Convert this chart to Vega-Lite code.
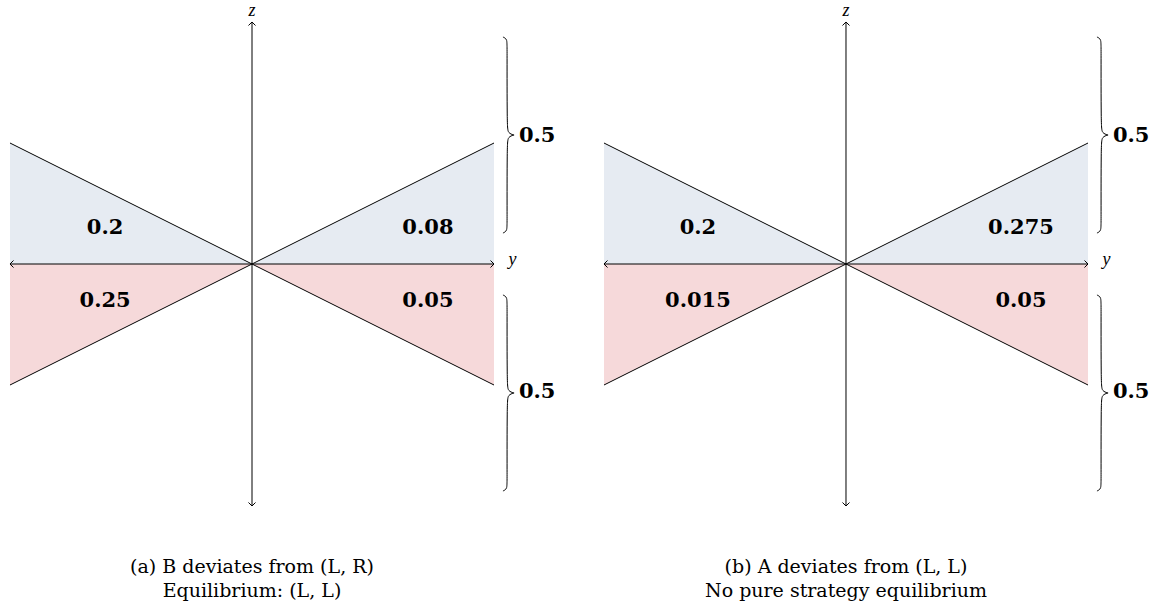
{
  "$schema": "https://vega.github.io/schema/vega-lite/v6.json",
  "padding": 0,
  "spacing": 0,
  "config": {"view": {"stroke": null}, "concat": {"spacing": 0}},
  "datasets": {
    "tri": [
      {"tri": "tl", "side": "top", "y": -1, "z": 0.5, "z0": 0},
      {"tri": "tl", "side": "top", "y": 0, "z": 0, "z0": 0},
      {"tri": "tr", "side": "top", "y": 0, "z": 0, "z0": 0},
      {"tri": "tr", "side": "top", "y": 1, "z": 0.5, "z0": 0},
      {"tri": "bl", "side": "bottom", "y": -1, "z": -0.5, "z0": 0},
      {"tri": "bl", "side": "bottom", "y": 0, "z": 0, "z0": 0},
      {"tri": "br", "side": "bottom", "y": 0, "z": 0, "z0": 0},
      {"tri": "br", "side": "bottom", "y": 1, "z": -0.5, "z0": 0}
    ],
    "segments": [
      {"seg": "y-axis", "y": -1, "z": 0, "y2": 1, "z2": 0},
      {"seg": "z-axis", "y": 0, "z": -1, "y2": 0, "z2": 1},
      {"seg": "diag1", "y": -1, "z": 0.5, "y2": 1, "z2": -0.5},
      {"seg": "diag2", "y": -1, "z": -0.5, "y2": 1, "z2": 0.5}
    ],
    "arrowheads": [
      {"head": "right", "order": 1, "y": 0.9855, "z": 0.0145},
      {"head": "right", "order": 2, "y": 1, "z": 0},
      {"head": "right", "order": 3, "y": 0.9855, "z": -0.0145},
      {"head": "left", "order": 1, "y": -0.9855, "z": 0.0145},
      {"head": "left", "order": 2, "y": -1, "z": 0},
      {"head": "left", "order": 3, "y": -0.9855, "z": -0.0145},
      {"head": "up", "order": 1, "y": -0.0145, "z": 0.9855},
      {"head": "up", "order": 2, "y": 0, "z": 1},
      {"head": "up", "order": 3, "y": 0.0145, "z": 0.9855},
      {"head": "down", "order": 1, "y": -0.0145, "z": -0.9855},
      {"head": "down", "order": 2, "y": 0, "z": -1},
      {"head": "down", "order": 3, "y": 0.0145, "z": -0.9855}
    ],
    "braces": [
      {"brace": "upper", "order": 1, "y": 1.037, "z": 0.938},
      {"brace": "upper", "order": 2, "y": 1.054, "z": 0.93},
      {"brace": "upper", "order": 3, "y": 1.054, "z": 0.9},
      {"brace": "upper", "order": 4, "y": 1.054, "z": 0.57},
      {"brace": "upper", "order": 5, "y": 1.058, "z": 0.54},
      {"brace": "upper", "order": 6, "y": 1.083, "z": 0.533},
      {"brace": "upper", "order": 7, "y": 1.083, "z": 0.533},
      {"brace": "upper", "order": 8, "y": 1.083, "z": 0.533},
      {"brace": "upper", "order": 9, "y": 1.058, "z": 0.526},
      {"brace": "upper", "order": 10, "y": 1.054, "z": 0.496},
      {"brace": "upper", "order": 11, "y": 1.054, "z": 0.166},
      {"brace": "upper", "order": 12, "y": 1.054, "z": 0.136},
      {"brace": "upper", "order": 13, "y": 1.037, "z": 0.128},
      {"brace": "lower", "order": 1, "y": 1.037, "z": -0.128},
      {"brace": "lower", "order": 2, "y": 1.054, "z": -0.136},
      {"brace": "lower", "order": 3, "y": 1.054, "z": -0.166},
      {"brace": "lower", "order": 4, "y": 1.054, "z": -0.496},
      {"brace": "lower", "order": 5, "y": 1.058, "z": -0.526},
      {"brace": "lower", "order": 6, "y": 1.083, "z": -0.533},
      {"brace": "lower", "order": 7, "y": 1.083, "z": -0.533},
      {"brace": "lower", "order": 8, "y": 1.083, "z": -0.533},
      {"brace": "lower", "order": 9, "y": 1.058, "z": -0.54},
      {"brace": "lower", "order": 10, "y": 1.054, "z": -0.57},
      {"brace": "lower", "order": 11, "y": 1.054, "z": -0.9},
      {"brace": "lower", "order": 12, "y": 1.054, "z": -0.93},
      {"brace": "lower", "order": 13, "y": 1.037, "z": -0.938}
    ],
    "halves": [
      {"y": 1.103, "z": 0.529, "label": "0.5"},
      {"y": 1.103, "z": -0.529, "label": "0.5"}
    ],
    "values": [
      {"panel": "a", "y": -0.607, "z": 0.149, "label": "0.2"},
      {"panel": "a", "y": 0.727, "z": 0.149, "label": "0.08"},
      {"panel": "a", "y": -0.607, "z": -0.151, "label": "0.25"},
      {"panel": "a", "y": 0.727, "z": -0.151, "label": "0.05"},
      {"panel": "b", "y": -0.612, "z": 0.149, "label": "0.2"},
      {"panel": "b", "y": 0.723, "z": 0.149, "label": "0.275"},
      {"panel": "b", "y": -0.612, "z": -0.151, "label": "0.015"},
      {"panel": "b", "y": 0.723, "z": -0.151, "label": "0.05"}
    ],
    "axislabels": [
      {"y": 0, "z": 1.025, "label": "z"},
      {"y": 1.076, "z": -0.006, "label": "y"}
    ],
    "captions": [
      {"panel": "a", "y": 0, "z": -1.277, "text": "(a) B deviates from (L, R)"},
      {"panel": "a", "y": 0, "z": -1.376, "text": "Equilibrium: (L, L)"},
      {"panel": "b", "y": 0, "z": -1.277, "text": "(b) A deviates from (L, L)"},
      {"panel": "b", "y": 0, "z": -1.376, "text": "No pure strategy equilibrium"}
    ]
  },
  "hconcat": [
    {
      "width": 594,
      "height": 613,
      "encoding": {
        "x": {"field": "y", "type": "quantitative", "scale": {"domain": [-1.04132, 1.41322], "nice": false, "zero": false}, "axis": null},
        "y": {"field": "z", "type": "quantitative", "scale": {"domain": [-1.4421, 1.0909], "nice": false, "zero": false}, "axis": null}
      },
      "layer": [
        {
          "data": {"name": "tri"},
          "mark": {"type": "area", "interpolate": "linear", "opacity": 1},
          "encoding": {
            "y": {"field": "z", "type": "quantitative", "stack": null},
            "y2": {"field": "z0"},
            "detail": {"field": "tri"},
            "color": {"field": "side", "type": "nominal", "scale": {"domain": ["top", "bottom"], "range": ["#E6EBF2", "#F6D9DA"]}, "legend": null}
          }
        },
        {
          "data": {"name": "segments"},
          "mark": {"type": "rule", "color": "#000000", "strokeWidth": 1},
          "encoding": {"x2": {"field": "y2"}, "y2": {"field": "z2"}}
        },
        {
          "data": {"name": "arrowheads"},
          "mark": {"type": "line", "interpolate": "linear", "color": "#000000", "strokeWidth": 1},
          "encoding": {"detail": {"field": "head"}, "order": {"field": "order", "type": "quantitative"}}
        },
        {
          "data": {"name": "braces"},
          "mark": {"type": "line", "interpolate": "basis", "color": "#000000", "strokeWidth": 1},
          "encoding": {"detail": {"field": "brace"}, "order": {"field": "order", "type": "quantitative"}}
        },
        {
          "data": {"name": "halves"},
          "mark": {"type": "text", "font": "DejaVu Serif", "fontWeight": "bold", "fontSize": 21, "align": "left", "baseline": "middle", "color": "#000000"},
          "encoding": {"text": {"field": "label"}}
        },
        {
          "data": {"name": "values"},
          "transform": [{"filter": "datum.panel == 'a'"}],
          "mark": {"type": "text", "font": "DejaVu Serif", "fontWeight": "bold", "fontSize": 21, "align": "center", "baseline": "middle", "color": "#000000"},
          "encoding": {"text": {"field": "label"}}
        },
        {
          "data": {"name": "axislabels"},
          "mark": {"type": "text", "font": "Liberation Serif", "fontStyle": "italic", "fontSize": 18, "align": "center", "baseline": "alphabetic", "color": "#000000"},
          "encoding": {"text": {"field": "label"}}
        },
        {
          "data": {"name": "captions"},
          "transform": [{"filter": "datum.panel == 'a'"}],
          "mark": {"type": "text", "font": "DejaVu Serif", "fontSize": 19, "align": "center", "baseline": "alphabetic", "color": "#000000"},
          "encoding": {"text": {"field": "text"}}
        }
      ]
    },
    {
      "width": 566,
      "height": 613,
      "encoding": {
        "x": {"field": "y", "type": "quantitative", "scale": {"domain": [-1.04132, 1.29752], "nice": false, "zero": false}, "axis": null},
        "y": {"field": "z", "type": "quantitative", "scale": {"domain": [-1.4421, 1.0909], "nice": false, "zero": false}, "axis": null}
      },
      "layer": [
        {
          "data": {"name": "tri"},
          "mark": {"type": "area", "interpolate": "linear", "opacity": 1},
          "encoding": {
            "y": {"field": "z", "type": "quantitative", "stack": null},
            "y2": {"field": "z0"},
            "detail": {"field": "tri"},
            "color": {"field": "side", "type": "nominal", "scale": {"domain": ["top", "bottom"], "range": ["#E6EBF2", "#F6D9DA"]}, "legend": null}
          }
        },
        {
          "data": {"name": "segments"},
          "mark": {"type": "rule", "color": "#000000", "strokeWidth": 1},
          "encoding": {"x2": {"field": "y2"}, "y2": {"field": "z2"}}
        },
        {
          "data": {"name": "arrowheads"},
          "mark": {"type": "line", "interpolate": "linear", "color": "#000000", "strokeWidth": 1},
          "encoding": {"detail": {"field": "head"}, "order": {"field": "order", "type": "quantitative"}}
        },
        {
          "data": {"name": "braces"},
          "mark": {"type": "line", "interpolate": "basis", "color": "#000000", "strokeWidth": 1},
          "encoding": {"detail": {"field": "brace"}, "order": {"field": "order", "type": "quantitative"}}
        },
        {
          "data": {"name": "halves"},
          "mark": {"type": "text", "font": "DejaVu Serif", "fontWeight": "bold", "fontSize": 21, "align": "left", "baseline": "middle", "color": "#000000"},
          "encoding": {"text": {"field": "label"}}
        },
        {
          "data": {"name": "values"},
          "transform": [{"filter": "datum.panel == 'b'"}],
          "mark": {"type": "text", "font": "DejaVu Serif", "fontWeight": "bold", "fontSize": 21, "align": "center", "baseline": "middle", "color": "#000000"},
          "encoding": {"text": {"field": "label"}}
        },
        {
          "data": {"name": "axislabels"},
          "mark": {"type": "text", "font": "Liberation Serif", "fontStyle": "italic", "fontSize": 18, "align": "center", "baseline": "alphabetic", "color": "#000000"},
          "encoding": {"text": {"field": "label"}}
        },
        {
          "data": {"name": "captions"},
          "transform": [{"filter": "datum.panel == 'b'"}],
          "mark": {"type": "text", "font": "DejaVu Serif", "fontSize": 19, "align": "center", "baseline": "alphabetic", "color": "#000000"},
          "encoding": {"text": {"field": "text"}}
        }
      ]
    }
  ]
}
